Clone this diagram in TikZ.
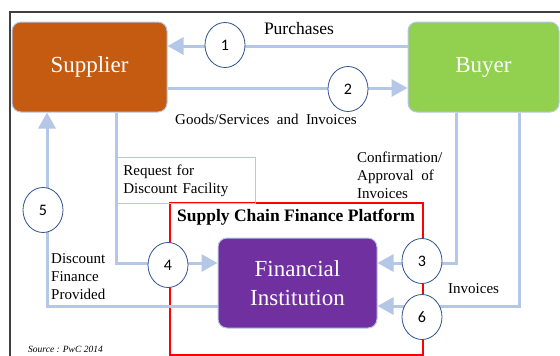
\documentclass[tikz,border=0pt]{standalone}
\usepackage{fontspec}
\setmainfont{Liberation Serif}
\newfontfamily\numfont{Carlito}
\usetikzlibrary{shapes,arrows.meta,positioning,calc}

\definecolor{supplierfill}{HTML}{C55A11}
\definecolor{buyerfill}{HTML}{92D050}
\definecolor{instfill}{HTML}{7030A0}
\definecolor{flow}{HTML}{B4C7E7}
\definecolor{ringblue}{HTML}{2F528F}

\begin{document}
\begin{tikzpicture}[x=1pt,y=-1pt]
  \tikzset{party/.style = {rounded corners=9pt,draw=flow,line width=1pt,text=white,align=center,
      font=\fontsize{23}{29}\selectfont,minimum width=155pt,minimum height=90pt}}
  \tikzset{num/.style = {ellipse,draw=ringblue,fill=white,line width=0.8pt,inner sep=0pt,
      minimum width=40pt,minimum height=45pt,font=\numfont\fontsize{16}{16}\selectfont}}
  \tikzset{flowline/.style = {draw=flow,line width=3pt}}
  \tikzset{flowarrow/.style = {flowline,-{Triangle[length=16pt,width=17pt]}}}
  \tikzset{lbl/.style = {font=\fontsize{15}{18}\selectfont,align=left,inner sep=0pt}}

  \useasboundingbox (0,0) rectangle (560,356);

  % outer frame
  \draw[line width=1.5pt,black!75] (10,356) -- (10,12) -- (560,12);

  % platform frame and its title
  \draw[red,line width=1.5pt] (170,203) rectangle (423,355);
  \node[font=\bfseries\fontsize{17.5}{18}\selectfont] (ptitle) at (296,217) {Supply Chain Finance Platform};

  % parties
  \node[party,fill=supplierfill] (sup) at (89.5,67) {Supplier};
  \node[party,fill=buyerfill,minimum width=151pt] (buy) at (483.5,67) {Buyer};
  \node[party,fill=instfill,minimum width=159pt] (inst) at (297.5,283) {Financial\\Institution};

  % levels of the flows
  \coordinate (y1) at (0,46);
  \coordinate (y2) at (0,88);
  \coordinate (y3) at (0,263);
  \coordinate (y6) at (0,306);
  \coordinate (xa) at (456,0);
  \coordinate (xb) at (519,0);
  \coordinate (xc) at (116,0);
  \coordinate (xd) at (47,0);

  % flows
  \draw[flowarrow] (buy.west |- y1) -- (sup.east |- y1);
  \draw[flowarrow] (sup.east |- y2) -- (buy.west |- y2);
  \draw[flowarrow] (xa |- buy.south) |- (inst.east |- y3);
  \draw[flowarrow] (xb |- buy.south) |- (inst.east |- y6);
  \draw[flowarrow] (xc |- sup.south) |- (inst.west |- y3);
  \draw[flowarrow] (inst.west |- y6) -| (xd |- sup.south);

  % request box
  \node[draw=flow,line width=0.8pt,anchor=north west,minimum width=139pt,minimum height=46pt,
        lbl,text width=125pt,inner xsep=7pt] (req) at (116,157) {Request for\\Discount Facility};

  % labels
  \node[lbl,font=\fontsize{17.5}{18}\selectfont] (lpur) at (299,29) {Purchases};
  \node[lbl] (lgoods) at (266,119) {Goods/Services\ \ and\ \ Invoices};
  \node[lbl,anchor=west] (lconf) at (357,175) {Confirmation/\\Approval\ \ of\\Invoices};
  \node[lbl,anchor=west] (linv) at (448,289) {Invoices};
  \node[lbl,anchor=west] (ldisc) at (51,277) {Discount\\Finance\\Provided};
  \node[font=\itshape\fontsize{9.5}{10}\selectfont,anchor=west,inner sep=0pt] (src) at (28,349) {Source : PwC 2014};

  % step numbers
  \node[num] (n1) at (225,45) {1};
  \node[num] (n2) at (348,89) {2};
  \node[num] (n3) at (422,261) {3};
  \node[num] (n4) at (168,265) {4};
  \node[num] (n5) at (43,210) {5};
  \node[num] (n6) at (422,317) {6};
\end{tikzpicture}
\end{document}
